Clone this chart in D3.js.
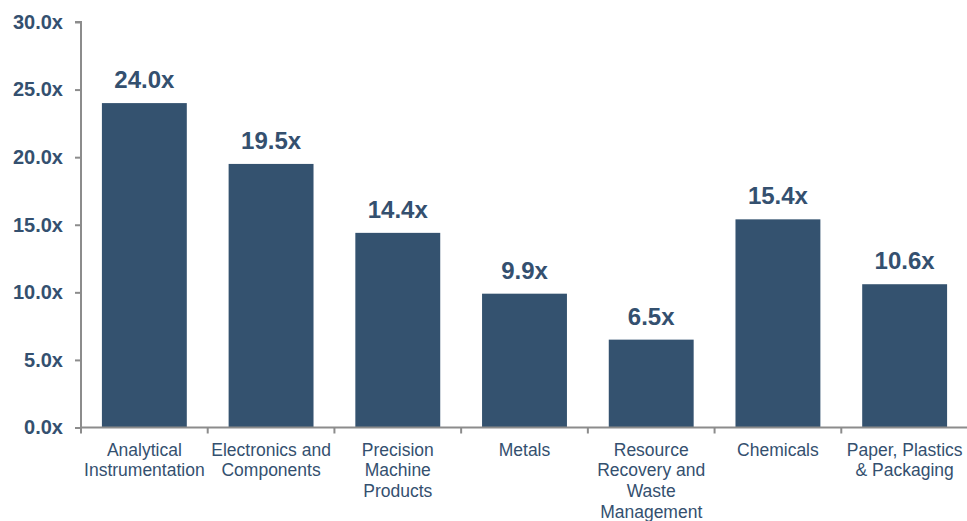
<!DOCTYPE html>
<html><head><meta charset="utf-8">
<script src="https://cdn.jsdelivr.net/npm/d3@7"></script>
<style>body{margin:0;background:#fff;}svg{display:block;}</style>
</head><body>
<svg id="c" width="967" height="521"></svg>
<script>
const categories = [
  ["Analytical","Instrumentation"],
  ["Electronics and","Components"],
  ["Precision","Machine","Products"],
  ["Metals"],
  ["Resource","Recovery and","Waste","Management"],
  ["Chemicals"],
  ["Paper, Plastics","& Packaging"]
];
const values = [24.0, 19.5, 14.4, 9.9, 6.5, 15.4, 10.6];
const yTicks = [0, 5, 10, 15, 20, 25, 30];

(function(){
const svg = d3.select("#c");
const mL = 81, mR = 968, mT = 22, mB = 427.5;
const ids = categories.map((d,i)=>i);
const x = d3.scaleBand().domain(ids).range([mL, mR]).paddingInner(0.33).paddingOuter(0.165);
const y = d3.scaleLinear().domain([0,30]).range([mB, mT]);
const axisColor = "#8c8c8c";
const textColor = "#34506f";
const barColor = "#34526f";

const ya = svg.append("g").attr("transform",`translate(${mL},0)`)
  .call(d3.axisLeft(y).tickValues(yTicks).tickSize(6).tickPadding(12).tickFormat(d=>d.toFixed(1)+"x"));
ya.select(".domain").attr("stroke",axisColor).attr("stroke-width",2).attr("d",`M-6,${y(30)}H0V${y(0)}`);
ya.selectAll(".tick line").attr("stroke",axisColor).attr("stroke-width",2);
ya.selectAll(".tick text").attr("fill",textColor).attr("font-family","Liberation Sans, Arial, sans-serif")
  .attr("font-size",20).attr("font-weight","bold");

svg.append("g").selectAll("rect").data(values).join("rect")
  .attr("x",(d,i)=>x(i)).attr("width",x.bandwidth())
  .attr("y",d=>y(d)).attr("height",d=>y(0)-y(d)).attr("fill",barColor);

const step = x.step();
const xg = svg.append("g");
xg.append("line").attr("x1",mL).attr("x2",mR).attr("y1",y(0)).attr("y2",y(0)).attr("stroke",axisColor).attr("stroke-width",2);
xg.selectAll("line.t").data(d3.range(categories.length+1)).join("line").attr("class","t")
  .attr("x1",i=>mL+i*step).attr("x2",i=>mL+i*step).attr("y1",y(0)).attr("y2",y(0)+6)
  .attr("stroke",axisColor).attr("stroke-width",2);

svg.append("g").selectAll("text").data(values).join("text")
  .attr("x",(d,i)=>x(i)+x.bandwidth()/2).attr("y",d=>y(d)-15)
  .attr("text-anchor","middle").attr("fill",textColor)
  .attr("font-family","Liberation Sans, Arial, sans-serif").attr("font-size",24).attr("font-weight","bold")
  .text(d=>d.toFixed(1)+"x");

const cl = svg.append("g").selectAll("text").data(categories).join("text")
  .attr("x",(d,i)=>x(i)+x.bandwidth()/2).attr("y",455.5)
  .attr("text-anchor","middle").attr("fill",textColor)
  .attr("font-family","Liberation Sans, Arial, sans-serif").attr("font-size",17.5);
cl.selectAll("tspan").data(d=>d).join("tspan")
  .attr("x",function(){return this.parentNode.getAttribute("x");})
  .attr("dy",(d,i)=>i===0?0:20.8).text(d=>d);
})();
</script>
</body></html>
